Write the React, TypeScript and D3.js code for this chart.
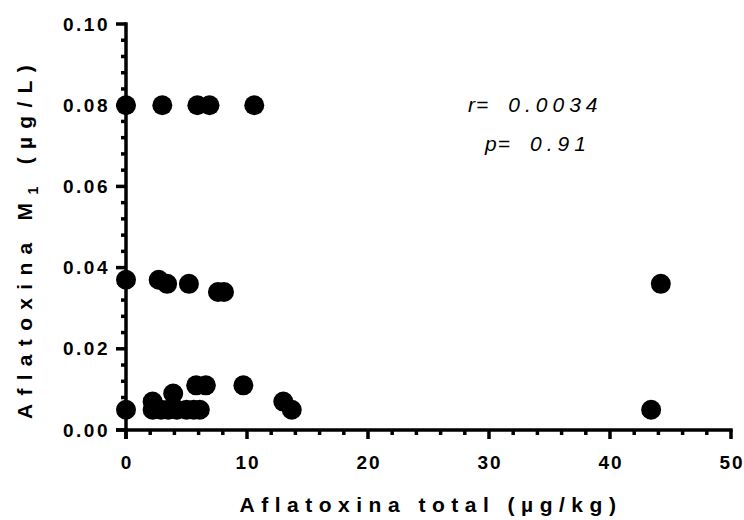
import React, { useEffect, useRef } from 'react';
import * as d3 from 'd3';

// aflatoxina total (ug/kg) vs aflatoxina M1 (ug/L)
const totalAflatoxin = [
  0, 3.0, 5.9, 6.9, 10.6,
  0, 2.7, 3.4, 5.2, 7.6, 8.1, 44.2,
  0, 2.2, 2.2, 2.9, 3.5, 4.2, 5.0, 5.6, 6.1, 3.9, 5.8, 6.6, 9.7, 13.0, 13.7, 43.4,
];
const aflatoxinM1 = [
  0.08, 0.08, 0.08, 0.08, 0.08,
  0.037, 0.037, 0.036, 0.036, 0.034, 0.034, 0.036,
  0.005, 0.007, 0.005, 0.005, 0.005, 0.005, 0.005, 0.005, 0.005, 0.009, 0.011, 0.011, 0.011, 0.007, 0.005, 0.005,
];
const xTicks = [0, 10, 20, 30, 40, 50];
const yTicks = [0, 0.02, 0.04, 0.06, 0.08, 0.1];
const statLabels = ['r=', 'p='];
const statValues = ['0.0034', '0.91'];

const App = () => {
  const ref = useRef<SVGSVGElement | null>(null);

  useEffect(() => {
    const width = 744;
    const height = 520;
    const svg = d3.select(ref.current);
    svg.selectAll('*').remove();

    const x = d3.scaleLinear().domain([0, 50]).range([126, 731]);
    const y = d3.scaleLinear().domain([0, 0.1]).range([430, 24]);
    const font = '"Liberation Sans", Arial, sans-serif';
    const sw = 3.5;

    // points first so axes sit over them like the original
    svg
      .append('g')
      .selectAll('circle')
      .data(totalAflatoxin.map((v, i) => ({ x: v, y: aflatoxinM1[i] })))
      .enter()
      .append('circle')
      .attr('cx', (d) => x(d.x))
      .attr('cy', (d) => y(d.y))
      .attr('r', 10)
      .attr('fill', '#000');

    // x axis
    const xg = svg.append('g').attr('transform', `translate(0,${y(0)})`);
    xg.append('line')
      .attr('x1', x(0) - 10)
      .attr('x2', x(50) + sw / 2)
      .attr('stroke', '#000')
      .attr('stroke-width', sw);
    xg.selectAll('.minor')
      .data(d3.range(0, 51, 2).filter((v) => v % 10 !== 0))
      .enter()
      .append('line')
      .attr('x1', (d) => x(d))
      .attr('x2', (d) => x(d))
      .attr('y1', 0)
      .attr('y2', 5)
      .attr('stroke', '#000')
      .attr('stroke-width', sw);
    xg.selectAll('.major')
      .data(xTicks)
      .enter()
      .append('line')
      .attr('x1', (d) => x(d))
      .attr('x2', (d) => x(d))
      .attr('y1', 0)
      .attr('y2', 9)
      .attr('stroke', '#000')
      .attr('stroke-width', sw);
    xg.selectAll('text')
      .data(xTicks)
      .enter()
      .append('text')
      .attr('x', (d) => x(d) + 1)
      .attr('y', 32)
      .attr('dy', '0.35em')
      .attr('text-anchor', 'middle')
      .attr('font-family', font)
      .attr('font-weight', 'bold')
      .attr('font-size', 19)
      .attr('letter-spacing', 2)
      .text((d) => d3.format('d')(d));

    // y axis
    const yg = svg.append('g').attr('transform', `translate(${x(0)},0)`);
    yg.append('line')
      .attr('y1', y(0.1) - sw / 2)
      .attr('y2', y(0) + 9)
      .attr('stroke', '#000')
      .attr('stroke-width', sw);
    yg.selectAll('.minor')
      .data(d3.range(1, 25).filter((v) => v % 5 !== 0).map((v) => v * 0.004))
      .enter()
      .append('line')
      .attr('y1', (d) => y(d))
      .attr('y2', (d) => y(d))
      .attr('x1', 0)
      .attr('x2', -5)
      .attr('stroke', '#000')
      .attr('stroke-width', sw);
    yg.selectAll('.major')
      .data(yTicks)
      .enter()
      .append('line')
      .attr('y1', (d) => y(d))
      .attr('y2', (d) => y(d))
      .attr('x1', 0)
      .attr('x2', -10)
      .attr('stroke', '#000')
      .attr('stroke-width', sw);
    yg.selectAll('text')
      .data(yTicks)
      .enter()
      .append('text')
      .attr('x', -16)
      .attr('y', (d) => y(d))
      .attr('dy', '0.35em')
      .attr('text-anchor', 'end')
      .attr('font-family', font)
      .attr('font-weight', 'bold')
      .attr('font-size', 19)
      .attr('letter-spacing', 2.5)
      .text((d) => d3.format('.2f')(d));

    // axis titles
    svg
      .append('text')
      .attr('x', 431)
      .attr('y', 505)
      .attr('dy', '0.35em')
      .attr('text-anchor', 'middle')
      .attr('font-family', font)
      .attr('font-weight', 'bold')
      .attr('font-size', 21)
      .attr('letter-spacing', 6.5)
      .text('Aflatoxina total (µg/kg)');

    const yt = svg
      .append('text')
      .attr('transform', 'translate(25,238) rotate(-90)')
      .attr('dy', '0.35em')
      .attr('text-anchor', 'middle')
      .attr('font-family', font)
      .attr('font-weight', 'bold')
      .attr('font-size', 21)
      .attr('letter-spacing', 8.3);
    yt.append('tspan').text('Aflatoxina M');
    yt.append('tspan').attr('font-size', 14).attr('dy', 6).text('1');
    yt.append('tspan').attr('dy', -6).text(' (µg/L)');

    // correlation annotation
    const starts = [468, 485];
    const stats = svg
      .append('g')
      .attr('font-family', font)
      .attr('font-style', 'italic')
      .attr('font-size', 21)
      .selectAll('text')
      .data(statLabels)
      .enter()
      .append('text')
      .attr('x', (d, i) => starts[i])
      .attr('y', (d, i) => 112 + i * 39);
    stats.append('tspan').attr('letter-spacing', 1).text((d) => d);
    stats
      .append('tspan')
      .attr('dx', 19)
      .attr('letter-spacing', 5)
      .text((d, i) => statValues[i]);

    svg.attr('width', width).attr('height', height);
  }, []);

  return (
    <svg
      ref={ref}
      style={{ position: 'absolute', left: 0, top: 0, background: '#fff' }}
    />
  );
};

export default App;
